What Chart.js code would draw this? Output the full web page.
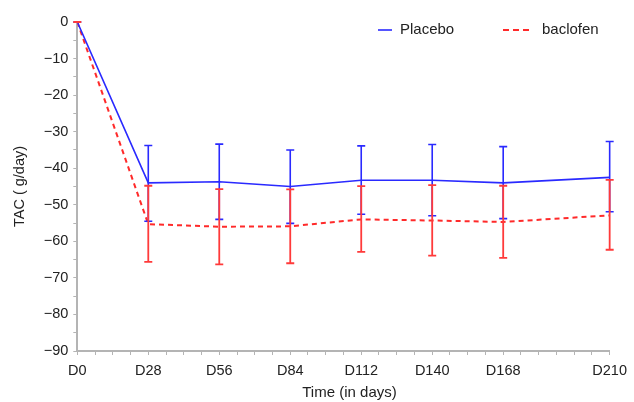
<!DOCTYPE html>
<html>
<head>
<meta charset="utf-8">
<script src="https://cdn.jsdelivr.net/npm/chart.js@4"></script>
<style>
html,body{margin:0;padding:0;background:#fff;}
#wrap{width:634px;height:402px;position:relative;}
</style>
</head>
<body>
<div id="wrap"><canvas id="c" width="634" height="402"></canvas></div>
<script>
const days = [0, 28, 56, 84, 112, 140, 168, 210];
const xTickLabels = ['D0', 'D28', 'D56', 'D84', 'D112', 'D140', 'D168', 'D210'];
const yTickValues = [0, -10, -20, -30, -40, -50, -60, -70, -80, -90];

const placeboMean  = [0, -44.0, -43.7, -45.0, -43.3, -43.3, -44.0, -42.5];
const placeboUpper = [0, -33.8, -33.4, -35.0, -33.9, -33.5, -34.1, -32.7];
const placeboLower = [0, -54.5, -54.0, -55.1, -52.6, -53.0, -53.8, -51.9];

const baclofenMean  = [0, -55.3, -56.0, -55.9, -54.0, -54.3, -54.7, -52.9];
const baclofenUpper = [0, -44.8, -45.7, -45.8, -44.9, -44.6, -44.8, -43.2];
const baclofenLower = [0, -65.6, -66.3, -66.0, -62.9, -63.9, -64.5, -62.3];

const seriesNames = ['Placebo', 'baclofen'];
const xAxisTitle = 'Time (in days)';
const yAxisTitle = 'TAC ( g/day)';

const BLUE = '#2a2aff';
const RED = '#ff2a2a';
const AXIS = '#b4b4b4';
const TEXT = '#222';
const FONT = '"Liberation Sans", Arial, sans-serif';

function pts(ys) { return days.map((d, i) => ({x: d, y: ys[i]})); }

const errorBars = {
  id: 'errorBars',
  afterDatasetsDraw(chart) {
    const {ctx, scales: {x, y}} = chart;
    const sets = [
      {up: placeboUpper, lo: placeboLower, color: BLUE, w: 1.6},
      {up: baclofenUpper, lo: baclofenLower, color: '#ff3a3a', w: 1.8}
    ];
    ctx.save();
    sets.forEach(s => {
      ctx.strokeStyle = s.color;
      ctx.lineWidth = s.w;
      ctx.setLineDash([]);
      days.forEach((d, i) => {
        const px = x.getPixelForValue(d);
        const pu = y.getPixelForValue(s.up[i]);
        const pl = y.getPixelForValue(s.lo[i]);
        ctx.beginPath();
        ctx.moveTo(px, pu); ctx.lineTo(px, pl);
        ctx.moveTo(px - 4, pu); ctx.lineTo(px + 4, pu);
        ctx.moveTo(px - 4, pl); ctx.lineTo(px + 4, pl);
        ctx.stroke();
      });
    });
    ctx.restore();
  }
};

const customText = {
  id: 'customText',
  afterDraw(chart) {
    const {ctx, scales: {x}} = chart;
    ctx.save();
    ctx.font = '15px ' + FONT;
    ctx.fillStyle = TEXT;
    ctx.textBaseline = 'middle';
    const yy = 30;
    // Placebo
    ctx.strokeStyle = BLUE; ctx.lineWidth = 1.6; ctx.setLineDash([]);
    ctx.beginPath(); ctx.moveTo(378, yy); ctx.lineTo(392, yy); ctx.stroke();
    ctx.textAlign = 'left';
    ctx.fillText(seriesNames[0], 400, yy);
    // baclofen
    ctx.strokeStyle = RED; ctx.lineWidth = 2; ctx.setLineDash([6, 4]);
    ctx.beginPath(); ctx.moveTo(503, yy); ctx.lineTo(532, yy); ctx.stroke();
    ctx.setLineDash([]);
    ctx.fillText(seriesNames[1], 542, yy);
    // x axis title
    ctx.textAlign = 'center';
    ctx.fillText(xAxisTitle, (x.left + x.right) / 2 + 6, 393);
    ctx.restore();
  }
};

const tickFont = {family: FONT, size: 14.5};

new Chart(document.getElementById('c'), {
  type: 'line',
  data: {
    datasets: [
      {label: seriesNames[0], data: pts(placeboMean), borderColor: BLUE, borderWidth: 1.6,
       pointRadius: 0, fill: false, tension: 0},
      {label: seriesNames[1], data: pts(baclofenMean), borderColor: RED, borderWidth: 2,
       borderDash: [5, 4], pointRadius: 0, fill: false, tension: 0}
    ]
  },
  options: {
    responsive: false,
    animation: false,
    devicePixelRatio: 1,
    layout: {padding: {left: 6, top: 22, right: 14.7, bottom: 0}},
    plugins: {legend: {display: false}, tooltip: {enabled: false}},
    scales: {
      x: {
        type: 'linear', min: 0, max: 210,
        afterBuildTicks(scale) {
          const t = [];
          for (let v = 0; v <= 210; v += 7) t.push({value: v});
          scale.ticks = t;
        },
        afterFit(scale) { scale.height = 51; },
        ticks: {
          autoSkip: false, maxRotation: 0, padding: 7, color: TEXT, font: tickFont,
          callback(v) { const i = days.indexOf(v); return i >= 0 ? xTickLabels[i] : ''; }
        },
        grid: {drawOnChartArea: false, tickLength: 4, color: AXIS, lineWidth: 1},
        border: {color: AXIS, width: 2},
        title: {display: false}
      },
      y: {
        type: 'linear', min: -90, max: 0,
        afterBuildTicks(scale) {
          const t = [];
          for (let v = -90; v <= 0; v += 5) t.push({value: v});
          scale.ticks = t;
        },
        afterFit(scale) { scale.width = 71.3; },
        ticks: {
          autoSkip: false, padding: 5, color: TEXT, font: tickFont,
          callback(v) {
            if (!yTickValues.includes(v)) return '';
            return v < 0 ? '\u2212' + Math.abs(v) : String(v);
          }
        },
        grid: {drawOnChartArea: false, tickLength: 4, color: AXIS, lineWidth: 1},
        border: {color: AXIS, width: 2},
        title: {display: true, text: yAxisTitle, color: TEXT,
                font: {family: FONT, size: 14.5}, padding: {top: 5.5, bottom: 0}}
      }
    }
  },
  plugins: [errorBars, customText]
});
</script>
</body>
</html>
